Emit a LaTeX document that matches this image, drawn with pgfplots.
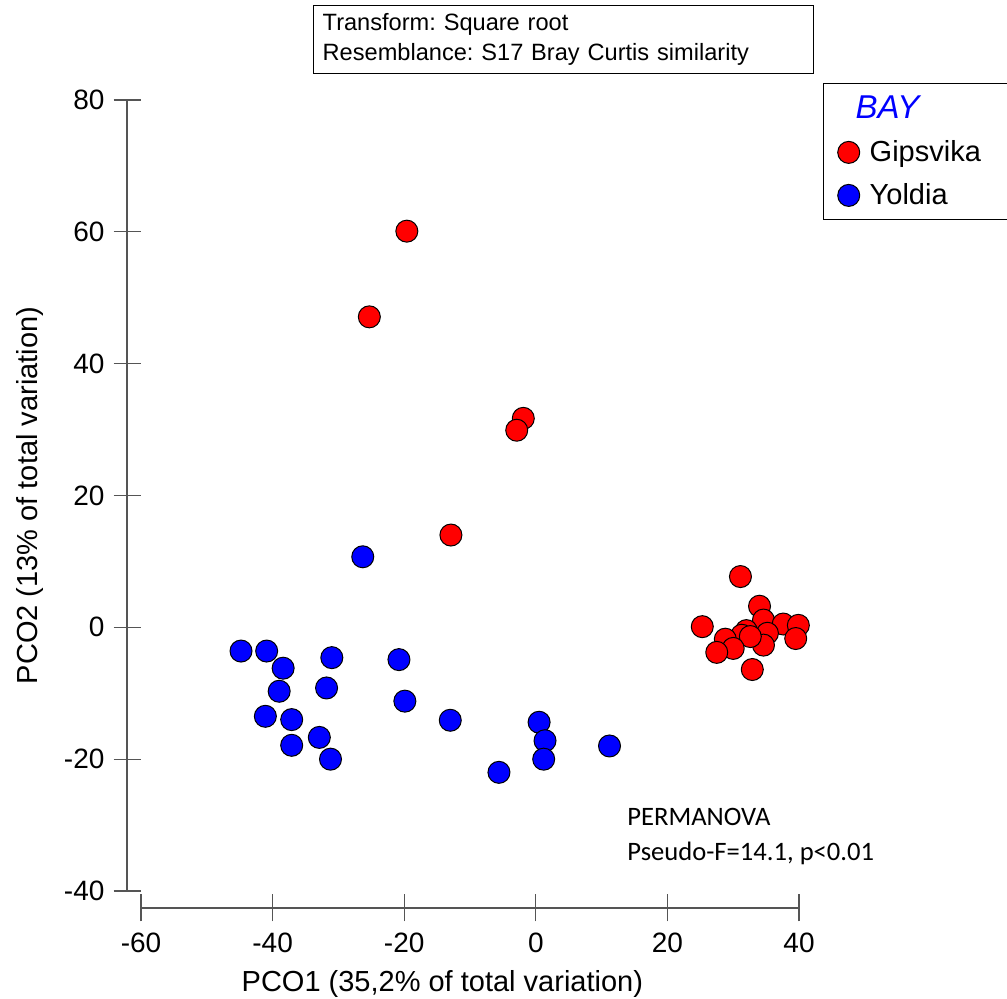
\documentclass[border=0pt]{standalone}
\usepackage{pgfplots}
\pgfplotsset{compat=1.18}
\usepackage{fontspec}
\setmainfont{Liberation Sans}
\newfontfamily\calibri{Carlito}
\definecolor{axgray}{RGB}{85,85,85}
\frenchspacing

\pgfplotstableread{
x y
-19.6 60.1
-25.3 47.1
-1.9 31.7
-2.9 29.9
-12.9 14.0
31.1 7.7
25.3 0.1
34.0 3.2
34.6 1.1
37.6 0.5
39.9 0.3
39.5 -1.7
35.2 -0.9
34.6 -2.7
32.0 -0.5
31.3 -1.2
32.6 -1.4
28.8 -1.8
30.0 -3.2
27.5 -3.8
32.9 -6.4
}\gips

\pgfplotstableread{
x y
-44.8 -3.6
-40.9 -3.6
-38.4 -6.2
-39.0 -9.7
-41.1 -13.5
-37.1 -14.0
-37.1 -17.9
-32.9 -16.7
-31.2 -20.0
-31.0 -4.6
-31.8 -9.2
-20.8 -4.9
-19.9 -11.2
-26.3 10.7
-13.0 -14.1
0.5 -14.4
1.4 -17.2
1.2 -20.0
-5.6 -22.0
11.2 -18.0
}\yold

\begin{document}
\begin{tikzpicture}
\begin{axis}[
  scale only axis, width=329pt, height=395.5pt,
  xmin=-60, xmax=40, ymin=-40, ymax=80,
  axis lines=left, axis line style={-, axgray, line width=0.6pt},
  axis x line shift=8.5pt, axis y line shift=7pt,
  xtick={-60,-40,...,40}, ytick={-40,-20,...,80},
  minor tick num=0,
  tick align=center, major tick length=13.5pt,
  tick style={axgray, line width=0.6pt},
  every tick label/.append style={font=\fontsize{14}{17}\selectfont},
  yticklabel style={xshift=-1pt},
  xticklabel style={yshift=-2pt},
  /pgf/number format/assume math mode=true,
  clip=false,
  xlabel={PCO1 (35,2\% of total variation)},
  ylabel={PCO2 (13\% of total variation)},
  label style={font=\fontsize{14.5}{17}\selectfont},
  xlabel style={at={(rel axis cs:0.458,-0.1277)}, anchor=base},
  ylabel style={at={(rel axis cs:-0.1687,0.5)}, anchor=center},
  legend image code/.code={\path[draw=none,fill=none] (0pt,-5pt) rectangle (13pt,5pt); \draw[#1] plot coordinates {(6.5pt,0pt)};},
  legend style={at={(rel axis cs:1.0365,1.0215)}, anchor=north west, draw=black, line width=0.7pt,
    font=\fontsize{14.5}{17}\selectfont, inner xsep=6pt, inner ysep=4pt, row sep=5.5pt,
    /tikz/every odd column/.append style={column sep=2pt}},
  legend cell align=left,
]
\addlegendimage{empty legend}
\addlegendentry{\hspace*{-7pt}{\fontsize{16.5}{18}\selectfont\itshape\color{blue}BAY}\rule[-9pt]{0pt}{1pt}}
\addplot[only marks, mark=*, mark size=5.5pt, mark options={fill=red, draw=black, line width=0.5pt}] table[x=x,y=y] {\gips};
\addlegendentry{\makebox[61pt][l]{Gipsvika}}
\addplot[only marks, mark=*, mark size=5.5pt, mark options={fill=blue, draw=black, line width=0.5pt}] table[x=x,y=y] {\yold};
\addlegendentry{\makebox[61pt][l]{Yoldia}}

\node[draw=black, line width=0.7pt, anchor=north west, minimum width=250pt, minimum height=34pt,
  inner xsep=4.5pt, inner ysep=2pt, text width=241pt, align=left, font=\fontsize{11.8}{15}\selectfont]
  at (rel axis cs:0.2614,1.1201) {Transform: Square root\\Resemblance: S17 Bray Curtis similarity};

\node[anchor=base west, inner sep=0pt, font=\calibri\fontsize{13.3}{15}\selectfont] at (axis cs:13.86,-30.1) {PERMANOVA};
\node[anchor=base west, inner sep=0pt, font=\calibri\fontsize{13.3}{15}\selectfont] at (axis cs:13.86,-35.45) {Pseudo-F=14.1, p<0.01};

\coordinate (bbl) at (rel axis cs:-0.2143,-0.1353);
\coordinate (btr) at (rel axis cs:1.3161,1.1264);
\end{axis}
\pgfresetboundingbox
\path[use as bounding box] (bbl) rectangle (btr);
\end{tikzpicture}
\end{document}
